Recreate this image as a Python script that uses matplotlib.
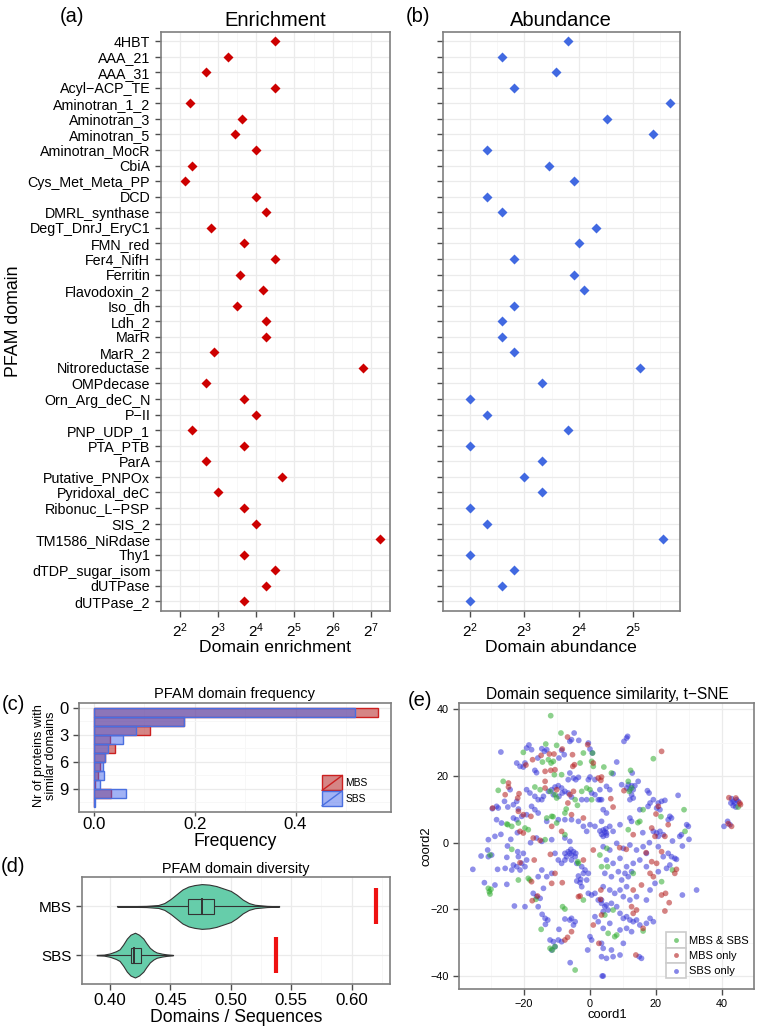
import numpy as np
import matplotlib.pyplot as plt
from matplotlib.lines import Line2D
from matplotlib.patches import Patch, Rectangle
from matplotlib.legend_handler import HandlerBase
from matplotlib.ticker import NullFormatter

plt.rcParams['font.family'] = ['Liberation Sans', 'DejaVu Sans']
plt.rcParams['mathtext.fontset'] = 'custom'
plt.rcParams['mathtext.rm'] = 'Liberation Sans'
plt.rcParams['mathtext.it'] = 'Liberation Sans:italic'

# ---- data ----
domains = ["4HBT", "AAA_21", "AAA_31", "Acyl\u2212ACP_TE", "Aminotran_1_2", "Aminotran_3",
           "Aminotran_5", "Aminotran_MocR", "CbiA", "Cys_Met_Meta_PP", "DCD", "DMRL_synthase",
           "DegT_DnrJ_EryC1", "FMN_red", "Fer4_NifH", "Ferritin", "Flavodoxin_2", "Iso_dh",
           "Ldh_2", "MarR", "MarR_2", "Nitroreductase", "OMPdecase", "Orn_Arg_deC_N", "P\u2212II",
           "PNP_UDP_1", "PTA_PTB", "ParA", "Putative_PNPOx", "Pyridoxal_deC", "Ribonuc_L\u2212PSP",
           "SIS_2", "TM1586_NiRdase", "Thy1", "dTDP_sugar_isom", "dUTPase", "dUTPase_2"]
enrichment = [22.4, 9.6, 6.4, 22.4, 4.8, 12.3, 10.9, 15.8, 5.0, 4.4, 15.8, 19.2,
              7.1, 12.7, 22.4, 11.9, 18.1, 11.2, 19.2, 19.2, 7.4, 111.0, 6.4, 12.7, 15.9,
              5.0, 12.7, 6.4, 25.5, 8.0, 12.7, 15.9, 150.0, 12.7, 22.4, 19.2, 12.7]
abundance = [14, 6, 12, 7, 51, 23, 41, 5, 11, 15, 5, 6, 20, 16, 7, 15, 17, 7, 6,
             6, 7, 35, 10, 4, 5, 14, 4, 10, 8, 10, 4, 5, 47, 4, 7, 6, 4]

n_similar = list(range(11))
freq_mbs = [0.563, 0.179, 0.111, 0.032, 0.042, 0.022, 0.012, 0.007, 0.002, 0.034, 0.0]
freq_sbs = [0.518, 0.179, 0.083, 0.057, 0.027, 0.022, 0.018, 0.020, 0.012, 0.064, 0.001]

# violin outlines: (domains/sequences, half width)
violin_mbs = [(0.406, 0.005), (0.42, 0.008), (0.43, 0.012), (0.44, 0.03), (0.445, 0.07),
              (0.45, 0.15), (0.455, 0.25), (0.46, 0.35), (0.465, 0.41), (0.47, 0.44),
              (0.476, 0.46), (0.482, 0.45), (0.488, 0.42), (0.494, 0.37), (0.50, 0.32),
              (0.505, 0.24), (0.51, 0.14), (0.515, 0.07), (0.52, 0.035), (0.53, 0.012),
              (0.54, 0.004)]
violin_sbs = [(0.389, 0.004), (0.395, 0.01), (0.40, 0.035), (0.405, 0.08), (0.408, 0.12),
              (0.411, 0.22), (0.414, 0.34), (0.417, 0.42), (0.4207, 0.46), (0.424, 0.42),
              (0.4276, 0.34), (0.430, 0.25), (0.433, 0.15), (0.436, 0.09), (0.4386, 0.055),
              (0.443, 0.03), (0.447, 0.015), (0.452, 0.004)]
box_mbs = (0.4647, 0.4758, 0.486)
box_sbs = (0.4171, 0.4199, 0.4259)
observed = {'MBS': 0.6203, 'SBS': 0.5377}

tsne_both = [(-11.9, 38.1), (-8.8, 32.9), (-13.4, 29.6), (-10.1, 29.2), (-2.0, 26.9), (0.8, 26.9),
             (-20.2, 27.1), (-14.4, 24.2), (-11.8, 23.9), (-11.1, 24.4), (-12.6, 24.9), (-10.8, 20.4),
             (-8.6, 20.4), (-3.0, 23.9), (0.5, 24.4), (1.0, 22.9), (-16.7, 16.7), (-15.1, 15.9),
             (-12.1, 15.4), (-10.6, 14.4), (-10.1, 13.4), (-4.5, 12.9), (-2.5, 15.4), (-1.0, 16.4),
             (0.0, 15.9), (0.5, 12.9), (-26.3, 18.4), (-27.8, 15.7), (-24.9, 5.4), (-23.7, 4.9),
             (-21.7, 5.9), (-19.7, 4.4), (-18.7, 3.9), (-13.1, 7.4), (-11.6, 7.9), (-7.6, 8.9),
             (-10.1, 5.9), (-13.6, 0.9), (-7.6, 2.4), (19.2, 25.2), (4.2, 22.7), (6.5, 20.9),
             (12.3, 21.7), (11.6, 18.4), (12.6, 16.4), (11.9, 15.4), (28.5, 9.9), (16.1, 9.9),
             (15.1, 6.4), (11.6, 3.9), (28.8, 3.4), (44.9, 10.7), (-30.8, -13.7), (-30.5, -14.7),
             (-30.3, -15.4), (-30.0, -14.0), (-30.3, -3.7), (-23.7, -2.0), (-21.7, -11.2),
             (-18.2, -11.2), (-14.8, -26.0), (-16.4, -17.0), (-7.6, -19.9), (-12.1, -31.7),
             (-11.4, -32.2), (-10.6, -31.2), (-4.5, -38.2), (-3.5, -6.2), (-2.0, -17.2), (3.5, -7.2),
             (3.0, -3.7), (21.7, -11.7), (25.0, -8.2), (16.1, -26.5), (5.5, -27.2), (8.1, -27.7),
             (7.5, -28.2), (4.5, -21.7), (7.0, -20.2), (13.1, -9.2), (-25.2, 5.6), (-11.2, 7.8),
             (-7.2, 10.1), (-3.8, 11.2), (5.1, -1.7), (14.5, 6.0), (-3.7, -5.7), (5.3, -7.2),
             (-18.7, -10.7), (-8.3, -19.2), (21.5, 7.8)]
tsne_mbs = [(-6.8, 31.7), (-0.7, 29.4), (-12.3, 26.6), (-10.9, 26.6), (-8.4, 28.1), (-5.3, 26.4),
            (-17.4, 24.9), (-14.8, 26.2), (-19.4, 23.3), (-11.9, 21.7), (-10.6, 21.9), (-13.6, 21.4),
            (-5.2, 22.9), (-4.7, 23.4), (1.0, 23.9), (2.5, 19.4), (3.5, 19.7), (3.3, 18.7),
            (-13.6, 16.4), (-10.1, 15.9), (-13.6, 18.4), (-6.1, 14.4), (-5.0, 15.4), (-6.7, 11.9),
            (-24.7, 17.9), (-24.7, 16.7), (-25.7, 14.4), (-21.9, 13.4), (-21.5, 14.7), (-29.5, 10.4),
            (-21.7, 9.4), (-20.2, 8.4), (-17.9, 7.9), (-21.2, 3.4), (-20.2, 2.9), (-11.6, 4.9),
            (-5.6, 8.4), (-2.0, 7.4), (-8.6, 3.4), (-17.2, 1.4), (-15.1, 0.7), (21.7, 27.4),
            (10.3, 15.6), (6.3, 13.2), (7.0, 10.7), (20.7, 10.9), (20.0, 8.6), (18.7, 4.4),
            (23.7, 5.4), (19.7, 1.9), (13.1, 2.4), (22.7, 1.9), (42.1, 13.5), (44.2, 13.4),
            (45.6, 11.4), (45.4, 11.9), (41.9, 5.7), (42.9, 4.9), (-21.2, -6.0), (-16.9, -5.2),
            (-17.7, -11.7), (-15.9, -16.0), (-17.5, -17.4), (-8.4, -12.0), (-11.6, -12.2),
            (-10.6, -9.2), (-5.6, -26.7), (-6.8, -28.4), (-7.6, -29.2), (2.7, -30.2), (3.5, -21.7),
            (1.0, -24.7), (-3.5, -16.2), (-3.0, -16.0), (-2.0, -5.2), (1.0, -2.2), (3.3, -14.2),
            (3.2, -17.0), (22.7, -20.5), (24.0, -18.0), (25.7, -9.2), (26.2, -8.0), (21.7, -15.7),
            (22.9, -15.2), (21.7, -2.7), (20.2, -6.2), (18.7, -5.7), (18.2, -9.2), (19.2, -10.2),
            (15.6, -12.7), (13.1, -14.2), (12.6, -19.2), (14.1, -20.2), (16.1, -25.7), (13.9, -33.7),
            (13.1, -21.2), (-12.0, -3.5), (9.0, -1.5), (11.0, -2.0), (17.0, -3.0)]
tsne_sbs = [(-27.0, 27.2), (-4.8, 32.9), (-6.1, 30.4), (-5.6, 30.9), (-3.4, 30.7), (-18.5, 29.3),
            (-17.7, 27.9), (-19.2, 28.4), (-14.6, 28.2), (-13.8, 27.4), (-13.1, 27.9), (-8.6, 27.7),
            (-7.8, 26.4), (-9.4, 25.4), (-0.5, 29.9), (0.0, 28.1), (0.7, 26.9), (-15.8, 25.4),
            (-19.7, 23.9), (-22.2, 23.9), (-21.2, 22.9), (-20.2, 22.7), (-16.7, 21.7), (-16.2, 21.0),
            (-6.1, 20.9), (-5.0, 19.4), (-4.3, 18.9), (-3.5, 19.6), (-6.6, 18.9), (0.0, 19.7),
            (-0.5, 18.9), (1.5, 18.9), (-19.2, 15.9), (-18.2, 14.9), (-16.7, 13.9), (-15.7, 12.9),
            (-14.6, 12.9), (-14.1, 13.9), (-12.6, 15.4), (-11.6, 15.9), (-10.6, 16.7), (-9.6, 17.1),
            (-8.6, 16.4), (-7.6, 15.4), (-6.6, 14.9), (-5.6, 13.7), (-11.1, 14.4), (-9.4, 13.9),
            (-8.4, 14.9), (-2.5, 12.9), (-1.0, 12.9), (0.5, 14.9), (1.5, 14.4), (2.5, 12.9),
            (3.5, 12.9), (3.0, 15.9), (-24.2, 15.9), (-25.9, 12.4), (-28.3, 10.9), (-29.6, 10.2),
            (-27.8, 10.4), (-24.9, 10.7), (-23.2, 11.4), (-22.2, 12.4), (-21.7, 10.1), (-28.3, 6.9),
            (-26.8, 5.9), (-23.2, 7.4), (-22.2, 6.9), (-20.7, 7.9), (-19.2, 8.4), (-17.7, 10.9),
            (-16.7, 9.9), (-15.7, 8.9), (-13.1, 6.4), (-9.6, 6.9), (-7.6, 6.9), (-5.6, 6.9),
            (-3.5, 6.4), (-2.0, 4.9), (-1.0, 3.4), (0.0, 5.4), (1.5, 4.9), (3.5, 6.4), (-16.2, 1.4),
            (-14.6, 0.4), (-11.6, 0.9), (-7.6, 1.4), (-6.1, 0.4), (-28.8, 1.9), (-30.8, 0.9),
            (11.4, 31.9), (11.1, 31.4), (10.3, 30.4), (8.1, 24.2), (7.0, 20.7), (12.8, 20.9),
            (14.6, 18.4), (11.6, 17.4), (12.6, 17.1), (13.6, 17.1), (12.1, 15.9), (13.1, 15.9),
            (11.1, 16.4), (12.6, 14.4), (13.1, 13.4), (12.1, 12.9), (9.6, 17.4), (5.0, 16.9),
            (6.0, 15.9), (3.0, 12.9), (4.0, 9.9), (5.0, 8.9), (17.4, 15.6), (17.9, 14.9),
            (26.7, 14.2), (19.2, 12.9), (18.2, 11.9), (17.6, 10.9), (15.1, 9.9), (20.7, 11.9),
            (21.7, 12.4), (22.7, 12.7), (20.2, 10.4), (21.2, 9.9), (24.2, 7.9), (23.7, 6.9),
            (24.7, 7.4), (12.1, 7.4), (12.6, 6.4), (9.1, 5.4), (6.0, 4.9), (7.0, 3.4), (5.0, 2.9),
            (4.0, 1.9), (19.2, 3.4), (20.2, 2.9), (21.2, 3.4), (22.2, 2.4), (20.7, 1.9), (27.2, 1.9),
            (27.7, 2.4), (29.3, 5.4), (29.8, 4.9), (42.9, 13.2), (43.4, 12.4), (43.9, 11.9),
            (44.4, 12.9), (44.9, 12.4), (43.4, 11.1), (44.2, 10.7), (42.7, 11.9), (41.7, 6.4),
            (42.4, 5.4), (40.6, 4.9), (-35.5, -8.0), (-31.0, -2.2), (-29.8, -3.7), (-30.8, -4.2),
            (-28.0, -8.0), (-25.2, -4.4), (-23.2, -6.7), (-23.7, -8.2), (-22.2, -7.2), (-21.2, -8.2),
            (-20.7, -6.2), (-19.7, -7.2), (-19.2, -5.2), (-20.2, -3.2), (-21.7, -4.2), (-21.9, -2.7),
            (-28.8, -12.7), (-25.2, -12.5), (-22.9, -19.0), (-19.7, -19.2), (-15.7, -19.2),
            (-17.2, -15.2), (-16.2, -16.2), (-15.1, -16.7), (-14.1, -13.7), (-13.1, -10.2),
            (-11.6, -9.2), (-13.6, -22.7), (-12.8, -23.2), (-9.4, -26.0), (-6.1, -23.2), (-5.6, -22.7),
            (-4.5, -23.7), (-5.0, -24.7), (-7.6, -22.9), (-12.1, -29.2), (-11.1, -29.7), (-9.6, -29.2),
            (-8.6, -29.7), (-10.6, -31.2), (-11.6, -32.2), (-0.7, -32.2), (0.0, -28.2), (0.5, -29.2),
            (1.5, -22.2), (2.5, -23.7), (3.5, -30.2), (4.0, -31.7), (3.7, -40.0), (-6.6, -2.7),
            (-6.1, -3.2), (-5.6, -3.7), (-5.0, -2.7), (-4.5, -4.2), (-7.1, -4.2), (-5.8, -2.0),
            (-4.3, -3.2), (-7.6, -3.2), (-10.6, -3.2), (-9.6, -5.2), (-8.6, -6.2), (-7.6, -5.2),
            (-5.6, -5.2), (-4.0, -6.2), (-2.5, -7.2), (-1.5, -8.2), (-0.5, -9.2), (-2.0, -9.2),
            (-1.0, -11.2), (-2.5, -13.2), (-0.5, -15.2), (0.5, -15.7), (1.5, -15.2), (2.5, -17.2),
            (3.5, -18.2), (4.5, -19.2), (-14.6, -8.2), (-15.7, -10.2), (-25.7, -7.7), (32.3, -14.2),
            (28.0, -15.7), (23.7, -3.2), (24.7, -4.2), (25.7, -4.7), (26.2, -5.0), (24.2, -6.7),
            (23.2, -7.7), (14.9, -34.2), (15.6, -34.7), (3.5, -34.2), (5.0, -34.7), (7.0, -34.2),
            (9.1, -33.7), (4.0, -40.0), (10.1, -30.2), (6.5, -32.2), (4.0, -1.2), (6.0, -2.2),
            (8.1, -0.2), (10.1, -1.7), (12.1, -0.7), (14.1, -2.2), (16.1, -1.2), (17.1, -3.2),
            (5.0, -5.2), (7.0, -6.2), (9.1, -4.7), (11.1, -7.2), (13.1, -6.2), (15.1, -5.2),
            (17.1, -7.2), (4.5, -9.2), (6.5, -10.2), (8.6, -8.7), (10.6, -9.2), (11.6, -10.2),
            (12.6, -8.7), (9.6, -11.2), (4.0, -13.2), (6.0, -14.2), (7.5, -15.2), (9.1, -14.2),
            (11.1, -13.2), (10.1, -16.2), (12.1, -17.2), (14.1, -16.2), (3.5, -17.2), (5.0, -18.7),
            (6.5, -18.2), (8.1, -19.2), (5.5, -20.2), (4.0, -20.7), (9.1, -21.2), (10.1, -22.7),
            (11.1, -22.2), (12.1, -23.2), (13.1, -23.7), (14.1, -23.2), (15.1, -24.7), (17.1, -24.2),
            (18.2, -22.7), (19.2, -23.7), (9.1, -26.2), (11.1, -25.7), (12.6, -26.7), (6.0, -24.2),
            (4.0, -25.7), (20.7, -1.2), (22.2, -4.2), (20.7, -8.7), (19.7, -12.2), (18.2, -14.2),
            (17.1, -17.2), (3.5, 2.5), (4.5, 3.2), (4.0, 3.8), (5.0, 2.2), (3.0, 3.5), (4.8, 4.2),
            (-3.5, -10.0), (-2.8, -11.0), (-4.0, -11.5), (-3.0, -12.0), (-27.0, 2.5), (-24.0, 1.0),
            (-22.0, 3.0), (-18.0, 0.0), (-25.0, -1.0), (16.0, 3.0), (18.0, 0.0), (25.0, 0.5),
            (28.0, -1.0), (30.0, 1.0), (-33.0, -4.0), (-32.0, -12.0), (-14.5, -21.5), (-13.5, -24.5),
            (-6.0, -36.0)]

# ---- figure ----
W, H = 757, 1028
fig = plt.figure(figsize=(W / 100, H / 100), dpi=100)


def px_axes(l, t, r, b):
    return fig.add_axes([l / W, 1 - b / H, (r - l) / W, (b - t) / H])


def ftext(x, y, s, **kw):
    kw.setdefault('ha', 'center')
    kw.setdefault('va', 'center')
    fig.text(x / W, 1 - y / H, s, **kw)


def theme_bw(ax):
    ax.set_facecolor('white')
    for s in ax.spines.values():
        s.set_color('#7F7F7F')
        s.set_linewidth(1.2)
    ax.tick_params(which='major', color='#4D4D4D', length=4, width=1, labelcolor='black')
    ax.tick_params(which='minor', length=0)
    ax.set_axisbelow(True)
    ax.grid(which='major', color='#EBEBEB', lw=0.9)
    ax.grid(which='minor', color='#F7F7F7', lw=0.7)


ypos = np.arange(len(domains))

# (a) enrichment
ax_a = px_axes(160.7, 31.7, 390, 610.7)
theme_bw(ax_a)
ax_a.plot(enrichment, ypos, 'D', color='#CD0000', ms=5.6, mec='none', zorder=3)
ax_a.set_xscale('log', base=2)
ax_a.set_xlim(2 ** 1.88, 2 ** 7.47)
ax_a.set_xticks([2 ** k for k in range(2, 8)])
ax_a.set_xticklabels([f'$2^{{{k}}}$' for k in range(2, 8)], fontsize=11)
ax_a.set_xticks([2 ** (k + 0.5) for k in range(1, 8)], minor=True)
ax_a.xaxis.set_minor_formatter(NullFormatter())
ax_a.set_yticks(ypos)
ax_a.set_yticklabels(domains, fontsize=10.3)
ax_a.set_ylim(len(domains) - 0.4, -0.6)

# (b) abundance
ax_b = px_axes(442.7, 31.7, 680, 610.7)
theme_bw(ax_b)
ax_b.plot(abundance, ypos, 'D', color='#4169E1', ms=5.6, mec='none', zorder=3)
ax_b.set_xscale('log', base=2)
ax_b.set_xlim(2 ** 1.82, 2 ** 5.86)
ax_b.set_xticks([2 ** k for k in range(2, 6)])
ax_b.set_xticklabels([f'$2^{{{k}}}$' for k in range(2, 6)], fontsize=11)
ax_b.set_xticks([2 ** (k + 0.5) for k in range(1, 6)], minor=True)
ax_b.xaxis.set_minor_formatter(NullFormatter())
ax_b.set_yticks(ypos)
ax_b.set_yticklabels([])
ax_b.set_ylim(len(domains) - 0.4, -0.6)

ftext(72, 16, '(a)', fontsize=14.5)
ftext(275, 20, 'Enrichment', fontsize=14.5)
ftext(418, 16, '(b)', fontsize=14.5)
ftext(561, 20, 'Abundance', fontsize=14.5)
ftext(14, 321, 'PFAM domain', fontsize=12.8, rotation=90)
ftext(275, 648, 'Domain enrichment', fontsize=12.6)
ftext(561, 648, 'Domain abundance', fontsize=12.6)


# (c) frequency bars
class BoxDiagHandler(HandlerBase):
    def create_artists(self, legend, orig, xd, yd, width, height, fontsize, trans):
        r = Rectangle((-xd, -yd), width, height, facecolor=orig.get_facecolor(),
                      edgecolor=orig.get_edgecolor(), lw=1, transform=trans)
        ln = Line2D([-xd, -xd + width], [-yd, -yd + height], color=orig.get_edgecolor(),
                    lw=1, transform=trans)
        return [r, ln]


red_fill = (0.70, 0.13, 0.13, 0.55)
blue_fill = (0.27, 0.40, 0.93, 0.5)
red_edge = '#CC2020'
blue_edge = '#4A6FE0'

ax_c = px_axes(79, 703.3, 390.7, 812.3)
theme_bw(ax_c)
ax_c.barh(n_similar, freq_mbs, height=1, align='edge', color=red_fill, edgecolor=red_edge, lw=1)
ax_c.barh(n_similar, freq_sbs, height=1, align='edge', color=blue_fill, edgecolor=blue_edge, lw=1)
ax_c.set_ylim(11.6, -0.5)
ax_c.set_yticks([0, 3, 6, 9])
ax_c.set_yticklabels(['0', '3', '6', '9'], fontsize=12)
ax_c.set_yticks([1.5, 4.5, 7.5, 10.5], minor=True)
ax_c.set_xlim(-0.03, 0.589)
ax_c.set_xticks([0, 0.2, 0.4])
ax_c.set_xticklabels(['0.0', '0.2', '0.4'], fontsize=12.2)
ax_c.set_xticks([0.1, 0.3, 0.5], minor=True)
ax_c.tick_params(axis='x', which='major', length=3, pad=0.5)
ax_c.legend([Patch(facecolor=red_fill, edgecolor=red_edge),
             Patch(facecolor=blue_fill, edgecolor=blue_edge)], ['MBS', 'SBS'],
            handler_map={Patch: BoxDiagHandler()}, loc='lower left',
            bbox_to_anchor=(0.78, 0.06), frameon=False, fontsize=7.4,
            handlelength=1.95, handleheight=1.85, labelspacing=0.05,
            handletextpad=0.3, borderpad=0, borderaxespad=0)

ftext(13, 704, '(c)', fontsize=14.5)
ftext(235, 694, 'PFAM domain frequency', fontsize=10.5)
ftext(45, 756, 'Nr of proteins with\nsimilar domains', fontsize=9.2, rotation=90, linespacing=0.95)
ftext(235, 842, 'Frequency', fontsize=12.7)

# (d) diversity violins
ax_d = px_axes(81.7, 877.3, 390, 984.3)
theme_bw(ax_d)
violin_color = '#66CDAA'
for pos, prof, box, name in [(2, violin_mbs, box_mbs, 'MBS'), (1, violin_sbs, box_sbs, 'SBS')]:
    xs = np.array([p[0] for p in prof])
    hw = np.array([p[1] for p in prof])
    ax_d.fill_between(xs, pos - hw, pos + hw, facecolor=violin_color, edgecolor='#333333',
                      lw=0.8, zorder=2)
    ax_d.plot([xs[0], box[0]], [pos, pos], color='#333333', lw=0.8, zorder=3)
    ax_d.plot([box[2], xs[-1]], [pos, pos], color='#333333', lw=0.8, zorder=3)
    ax_d.add_patch(Rectangle((box[0], pos - 0.155), box[2] - box[0], 0.31,
                             facecolor=violin_color, edgecolor='#333333', lw=0.8, zorder=3))
    ax_d.plot([box[1], box[1]], [pos - 0.155, pos + 0.155], color='#333333', lw=1.4, zorder=4)
    ax_d.plot([observed[name], observed[name]], [pos - 0.37, pos + 0.37], color='#EE1111',
              lw=3, solid_capstyle='butt', zorder=4)
ax_d.set_ylim(0.4, 2.6)
ax_d.set_yticks([1, 2])
ax_d.set_yticklabels(['SBS', 'MBS'], fontsize=11)
ax_d.set_xlim(0.3766, 0.6318)
ax_d.set_xticks([0.40, 0.45, 0.50, 0.55, 0.60])
ax_d.set_xticklabels(['0.40', '0.45', '0.50', '0.55', '0.60'], fontsize=12.2)
ax_d.set_xticks([0.425, 0.475, 0.525, 0.575, 0.625], minor=True)
ax_d.tick_params(axis='x', which='major', pad=2.5)

ftext(13, 866, '(d)', fontsize=14.5)
ftext(236, 869, 'PFAM domain diversity', fontsize=10.4)
ftext(236, 1017, 'Domains / Sequences', fontsize=12.7)


# (e) t-SNE
class BoxMarkerHandler(HandlerBase):
    def create_artists(self, legend, orig, xd, yd, width, height, fontsize, trans):
        r = Rectangle((-xd, -yd), width, height, facecolor='white', edgecolor='#CCCCCC',
                      lw=1.2, transform=trans)
        m = Line2D([-xd + width / 2], [-yd + height / 2], marker='o', ls='none',
                   color=orig.get_color(), alpha=orig.get_alpha(), ms=3.5, mec='none',
                   transform=trans)
        return [r, m]


sbs_col, both_col, mbs_col = '#3434D8', '#2FAC2F', '#B41E1E'
ax_e = px_axes(459.3, 702.7, 754, 989)
theme_bw(ax_e)
groups = [(tsne_sbs, sbs_col), (tsne_both, both_col), (tsne_mbs, mbs_col)]
for pts, col in groups:
    arr = np.array(pts)
    ax_e.scatter(arr[:, 0], arr[:, 1], s=17, color=col, alpha=0.55, edgecolors='none', zorder=3)
ax_e.set_xlim(-39.6, 49.7)
ax_e.set_ylim(-43.9, 42)
ax_e.set_xticks([-20, 0, 20, 40])
ax_e.set_yticks([-40, -20, 0, 20, 40])
ax_e.set_xticks([-30, -10, 10, 30], minor=True)
ax_e.set_yticks([-30, -10, 10, 30], minor=True)
ax_e.tick_params(labelsize=7.8)
handles = [Line2D([], [], color=both_col, alpha=0.6), Line2D([], [], color=mbs_col, alpha=0.6),
           Line2D([], [], color=sbs_col, alpha=0.6)]
ax_e.legend(handles, ['MBS & SBS', 'MBS only', 'SBS only'],
            handler_map={Line2D: BoxMarkerHandler()}, loc='lower left',
            bbox_to_anchor=(0.70, 0.037), frameon=False, fontsize=8,
            handlelength=1.8, handleheight=1.75, labelspacing=0.0,
            handletextpad=0.3, borderpad=0, borderaxespad=0)

ftext(420, 700, '(e)', fontsize=14.5)
ftext(607, 694, 'Domain sequence similarity, t\u2212SNE', fontsize=11.2)
ftext(607, 1015, 'coord1', fontsize=9.4)
ftext(426, 846, 'coord2', fontsize=9.4, rotation=90)

fig.savefig('out.png', dpi=100)
